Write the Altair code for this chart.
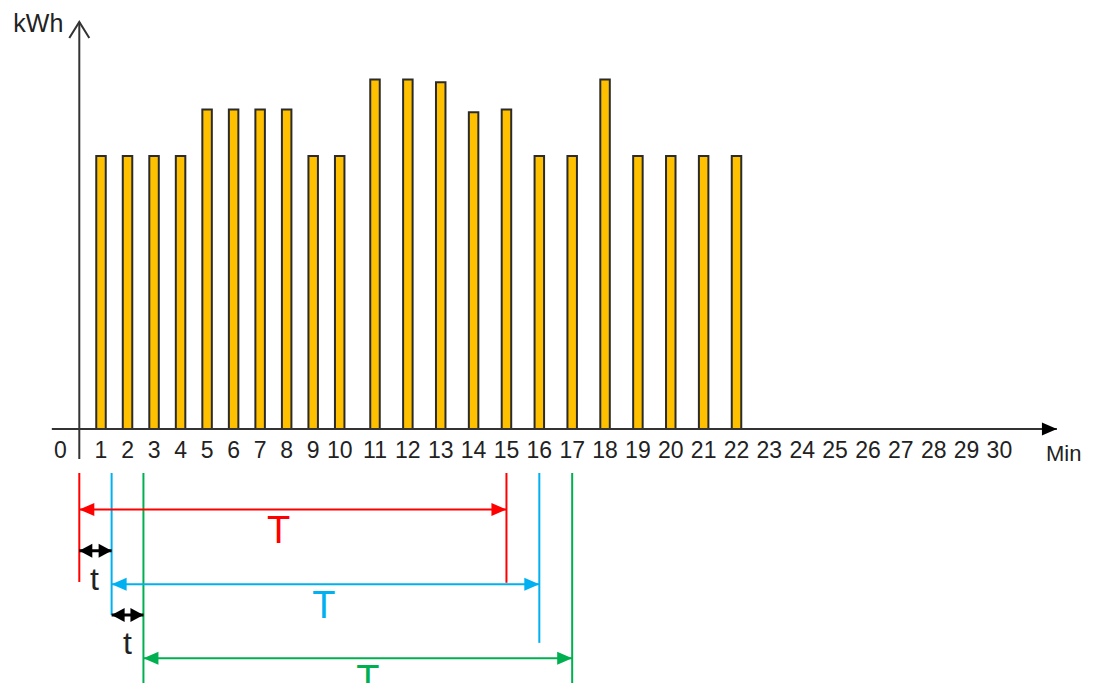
import altair as alt
import pandas as pd

# ---- data ----
minutes = list(range(1, 23))
kwh = [10.0, 10.0, 10.0, 10.0, 11.7, 11.7, 11.7, 11.7, 10.0, 10.0,
       12.8, 12.8, 12.7, 11.6, 11.7, 10.0, 10.0, 12.8, 10.0, 10.0, 10.0, 10.0]
tick_values = list(range(1, 31))
tick_labels = [str(v) for v in tick_values]
origin_label = "0"
y_title = "kWh"
x_title = "Min"

# sliding windows (T) and shifts (t)
window_colors = ["#FF0000", "#00B0F0", "#00B050"]
window_start = [0.0, 1.4, 2.6]
window_end = [15.0, 16.0, 17.0]
window_text = ["T", "T", "T"]
window_text_x = [7.7, 9.4, 10.8]
# annotation levels below the axis (in y units)
window_arrow_level = [-2.95, -5.68, -8.39]
window_text_level = [-3.77, -6.50, -9.23]
window_line_top = -1.61
window_left_bottom = [-5.60, -6.81, -9.4]
window_right_bottom = [-5.63, -7.83, -9.4]
shift_text = ["t", "t"]
shift_level = [-4.46, -6.81]
shift_text_level = [-5.53, -7.88]

x_axis_from, x_axis_to = -1.1, 31.75
y_axis_from, y_axis_to = -1.1, 14.91

FONT = "Liberation Sans"
TXT = "#222222"
AX = "#333333"

XS = alt.Scale(domain=[-2.69, 0, 1, 10, 11, 32.47],
               range=[0, 71.3, 93, 331.7, 367, 1078], nice=False, zero=False)
YS = alt.Scale(domain=[-9.30, 15.42], nice=False, zero=False)


def X(f):
    return alt.X(f, type="quantitative", scale=XS, axis=None)


def X2(f):
    return alt.X2(f)


def Y(f):
    return alt.Y(f, type="quantitative", scale=YS, axis=None)


def Y2(f):
    return alt.Y2(f)


COL = alt.Color("color:N", scale=None, legend=None)

HEAD_R = "M0,0L-15,-6.5L-15,6.5Z"
HEAD_L = "M0,0L15,-6.5L15,6.5Z"
SMALL_R = "M0,0L-13,-7L-13,7Z"
SMALL_L = "M0,0L13,-7L13,7Z"
CHEVRON_UP = "M-10,16L0,0L10,16"

bars_df = pd.DataFrame({"minute": minutes, "kwh": kwh})
ticks_df = pd.DataFrame({"x": tick_values, "label": tick_labels, "y": 0})

bars = alt.Chart(bars_df).mark_bar(
    size=9.5, fill="#FFC000", stroke="#2b2b2b", strokeWidth=2
).encode(x=X("minute"), y=Y("kwh"))

# axes drawn as lines with arrow heads
xaxis_df = pd.DataFrame({"x": [x_axis_from], "x2": [x_axis_to], "y": [0.0]})
yaxis_df = pd.DataFrame({"x": [0.0], "y": [y_axis_from], "y2": [y_axis_to]})
x_line = alt.Chart(xaxis_df).mark_rule(color=AX, strokeWidth=2).encode(
    x=X("x"), x2=X2("x2"), y=Y("y"))
y_line = alt.Chart(yaxis_df).mark_rule(color=AX, strokeWidth=2).encode(
    x=X("x"), y=Y("y"), y2=Y2("y2"))
x_head = alt.Chart(xaxis_df).mark_point(
    shape=HEAD_R, size=4, filled=True, color="#000000", opacity=1, strokeWidth=0
).encode(x=X("x2"), y=Y("y"))
y_head = alt.Chart(yaxis_df).mark_point(
    shape=CHEVRON_UP, size=4, filled=False, color=AX, opacity=1, strokeWidth=2
).encode(x=X("x"), y=Y("y2"))

tick_text = alt.Chart(ticks_df).mark_text(
    font=FONT, fontSize=23, color=TXT, baseline="middle", align="center", dy=22
).encode(x=X("x"), y=Y("y"), text="label:N")
zero_text = alt.Chart(pd.DataFrame({"x": [0.0], "y": [0.0], "label": [origin_label]})).mark_text(
    font=FONT, fontSize=23, color=TXT, baseline="middle", align="center", dy=22, dx=-19
).encode(x=X("x"), y=Y("y"), text="label:N")
ytitle = alt.Chart(pd.DataFrame({"x": [0.0], "y": [y_axis_to], "label": [y_title]})).mark_text(
    font=FONT, fontSize=25, color=TXT, baseline="middle", align="right", dx=-16, dy=2
).encode(x=X("x"), y=Y("y"), text="label:N")
xtitle = alt.Chart(pd.DataFrame({"x": [x_axis_to], "y": [0.0], "label": [x_title]})).mark_text(
    font=FONT, fontSize=22, color=TXT, baseline="middle", align="left", dx=-11, dy=25
).encode(x=X("x"), y=Y("y"), text="label:N")

# windows
win_df = pd.DataFrame({
    "start": window_start, "end": window_end, "level": window_arrow_level,
    "color": window_colors, "text": window_text, "tx": window_text_x,
    "ty": window_text_level, "top": window_line_top,
    "lb": window_left_bottom, "rb": window_right_bottom,
})
left_lines = alt.Chart(win_df).mark_rule(strokeWidth=2).encode(
    x=X("start"), y=Y("top"), y2=Y2("lb"), color=COL)
right_lines = alt.Chart(win_df).mark_rule(strokeWidth=2).encode(
    x=X("end"), y=Y("top"), y2=Y2("rb"), color=COL)
win_arrows = alt.Chart(win_df).mark_rule(strokeWidth=2).encode(
    x=X("start"), x2=X2("end"), y=Y("level"), color=COL)
win_head_l = alt.Chart(win_df).mark_point(
    shape=HEAD_L, size=4, filled=True, opacity=1, strokeWidth=0
).encode(x=X("start"), y=Y("level"), color=COL)
win_head_r = alt.Chart(win_df).mark_point(
    shape=HEAD_R, size=4, filled=True, opacity=1, strokeWidth=0
).encode(x=X("end"), y=Y("level"), color=COL)
win_text = alt.Chart(win_df).mark_text(
    font=FONT, fontSize=38, baseline="middle", align="center"
).encode(x=X("tx"), y=Y("ty"), text="text:N", color=COL)

# shifts t
shift_df = pd.DataFrame({
    "a": window_start[:-1], "b": window_start[1:], "level": shift_level,
    "text": shift_text, "ty": shift_text_level,
    "mid": [(a + b) / 2 for a, b in zip(window_start[:-1], window_start[1:])],
})
shift_line = alt.Chart(shift_df).mark_rule(strokeWidth=3, color="#000000").encode(
    x=X("a"), x2=X2("b"), y=Y("level"))
shift_head_l = alt.Chart(shift_df).mark_point(
    shape=SMALL_L, size=4, filled=True, color="#000000", opacity=1, strokeWidth=0
).encode(x=X("a"), y=Y("level"))
shift_head_r = alt.Chart(shift_df).mark_point(
    shape=SMALL_R, size=4, filled=True, color="#000000", opacity=1, strokeWidth=0
).encode(x=X("b"), y=Y("level"))
shift_txt = alt.Chart(shift_df).mark_text(
    font=FONT, fontSize=32, color=TXT, baseline="middle", align="center"
).encode(x=X("mid"), y=Y("ty"), text="text:N")

chart = alt.layer(
    bars, x_line, y_line, x_head, y_head, tick_text, zero_text, ytitle, xtitle,
    left_lines, right_lines, win_arrows, win_head_l, win_head_r, win_text,
    shift_line, shift_head_l, shift_head_r, shift_txt,
).properties(
    width=1078, height=675,
    autosize=alt.AutoSizeParams(type="none"), padding=0,
).configure_view(stroke=None)

chart.save("out.html", embed_options={"renderer": "svg", "actions": False})
